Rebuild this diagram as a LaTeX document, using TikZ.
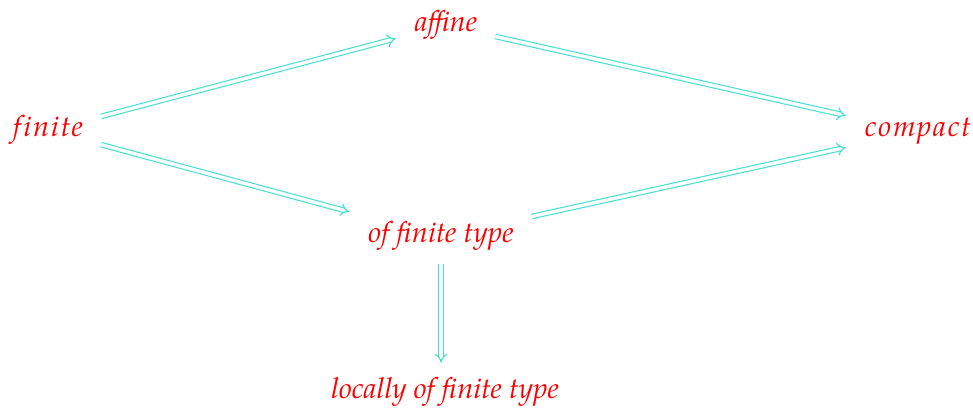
\documentclass[tikz,border=0pt]{standalone}
\usepackage{fontspec}
\setmainfont{TeX Gyre Pagella}
\usetikzlibrary{arrows.meta}
\definecolor{lbl}{RGB}{255,0,0}
\definecolor{arr}{RGB}{64,224,208}
\newcommand{\spaced}[1]{{\addfontfeature{LetterSpace=6,Ligatures=NoCommon}#1}}
\tikzset{
  term/.style={text=lbl, font=\fontsize{29}{35}\selectfont\itshape, inner xsep=18pt, inner ysep=13pt, anchor=base},
  implies/.style={draw=arr, double=white, double distance=3.4pt, line width=1.1pt,
    -{Implies[length=7.5pt]}, shorten >=1pt}
}
\begin{document}
\begin{tikzpicture}[x=1pt,y=-1pt]
  \useasboundingbox (0,0) rectangle (973,411);
  \node[term] (fin) at (48,137) {\spaced{finite}};
  \node[term] (aff) at (446,32) {affine};
  \node[term] (cpt) at (918,137) {\spaced{compact}};
  \node[term] (oft) at (441,243) {of finite type};
  \node[term] (loc) at (445,398) {locally of finite type};
  \draw[implies] (fin) -- (aff);
  \draw[implies] (fin) -- (oft);
  \draw[implies] (aff) -- (cpt);
  \draw[implies] (oft) -- (cpt);
  \draw[implies] (oft.south) -- (oft.south |- loc.north);
\end{tikzpicture}
\end{document}
